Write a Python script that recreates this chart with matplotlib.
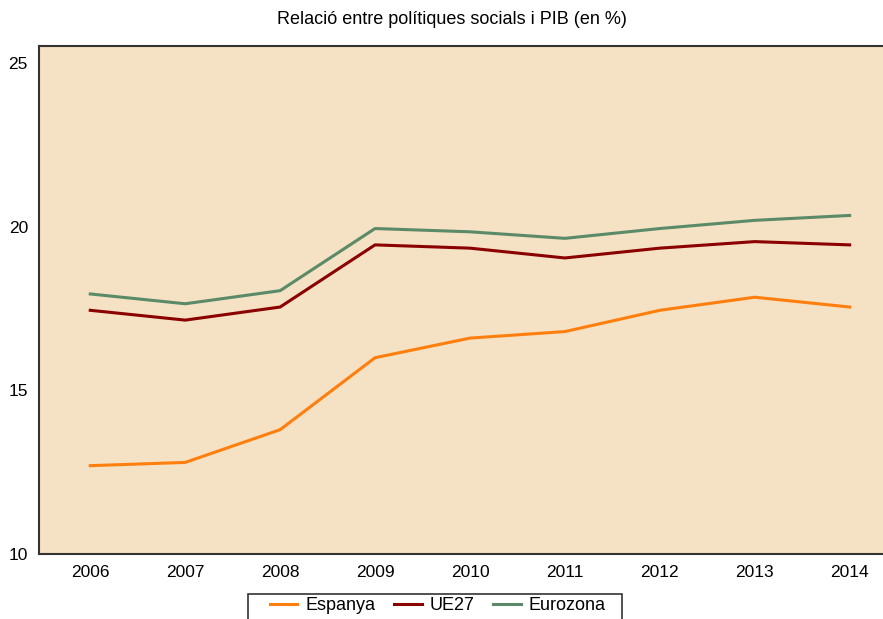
import matplotlib
matplotlib.use("Agg")
import matplotlib.pyplot as plt
from matplotlib.patches import Rectangle

years = [2006, 2007, 2008, 2009, 2010, 2011, 2012, 2013, 2014]
espanya = [12.7, 12.8, 13.8, 16.0, 16.6, 16.8, 17.45, 17.85, 17.55]
ue27 = [17.45, 17.15, 17.55, 19.45, 19.35, 19.05, 19.35, 19.55, 19.45]
eurozona = [17.95, 17.65, 18.05, 19.95, 19.85, 19.65, 19.95, 20.2, 20.35]
yticks = [10, 15, 20, 25]
title = "Relació entre polítiques socials i PIB (en %)"

plt.rcParams['font.family'] = ['Liberation Sans', 'DejaVu Sans']

W, H = 883, 619
fig = plt.figure(figsize=(8.83, 6.19), dpi=100)
ax = fig.add_axes([39/W, (H-554)/H, 1 - 39/W + 0.002, (554-46)/H])
ax.set_facecolor('#F5E1C3')

ax.plot(years, espanya, color='#FF7F0E', lw=2.2, label='Espanya')
ax.plot(years, ue27, color='#8B0000', lw=2.2, label='UE27')
ax.plot(years, eurozona, color='#5B8A68', lw=2.2, label='Eurozona')

ax.set_xlim(2005.46, 2014.37)
ax.set_ylim(10, 25.53)
ax.set_xticks(years)
ax.set_xticklabels([str(y) for y in years])
ax.set_yticks(yticks)
ax.tick_params(length=0, labelsize=12.5, pad=8)
for s in ['left', 'top', 'bottom']:
    ax.spines[s].set_color('#333333')
    ax.spines[s].set_linewidth(1.5)
ax.spines['right'].set_visible(False)

fig.text(452/W, 1 - 20/H, title, ha='center', va='center', fontsize=13)

# legend frame (extends past the bottom edge as in the reference)
fig.patches.append(Rectangle((248/W, -0.02), (622-248)/W, (H-594)/H + 0.02,
                             transform=fig.transFigure, facecolor='white',
                             edgecolor='#333333', linewidth=1.2))

leg = fig.legend(loc='center', bbox_to_anchor=(438/W, 1 - 606/H), ncol=3,
                 fontsize=13, frameon=False,
                 handlelength=1.5, handletextpad=0.45, columnspacing=1.05,
                 borderpad=0.0, borderaxespad=0)

fig.savefig('out.png', dpi=100)
